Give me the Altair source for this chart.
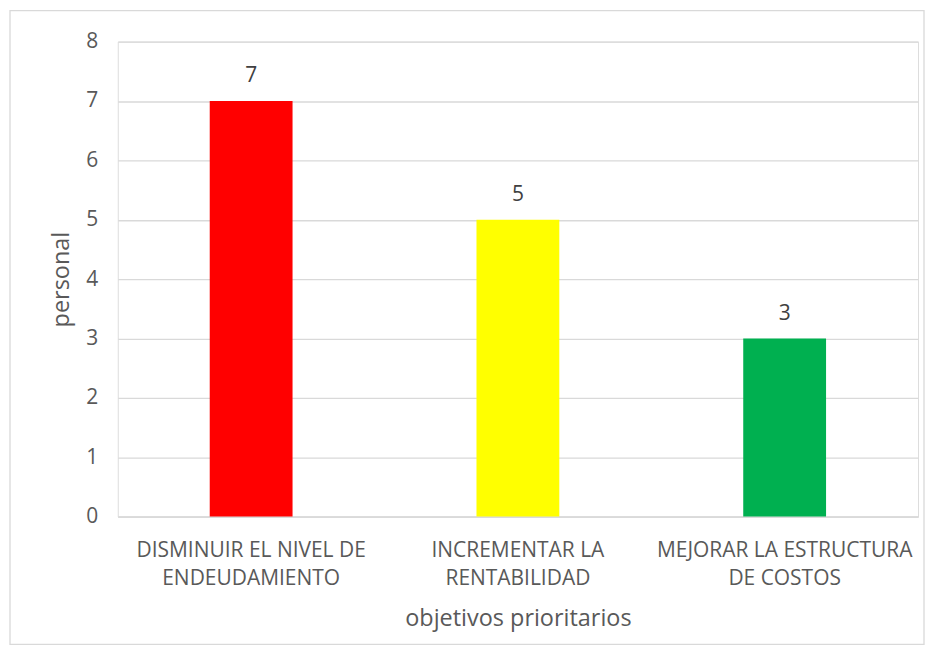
import altair as alt
import pandas as pd

categories = ["DISMINUIR EL NIVEL DE ENDEUDAMIENTO",
              "INCREMENTAR LA RENTABILIDAD",
              "MEJORAR LA ESTRUCTURA DE COSTOS"]
label_lines = [["DISMINUIR EL NIVEL DE", "ENDEUDAMIENTO"],
               ["INCREMENTAR LA", "RENTABILIDAD"],
               ["MEJORAR LA ESTRUCTURA", "DE COSTOS"]]
values = [7, 5, 3]
colors = ["#FF0000", "#FFFF00", "#00B050"]
y_ticks = [0, 1, 2, 3, 4, 5, 6, 7, 8]

df = pd.DataFrame({"cat": categories, "val": values, "color": colors})

expr = ""
for c, ls in zip(categories, label_lines):
    expr += f"datum.value == '{c}' ? ['{ls[0]}', '{ls[1]}'] : "
expr += "datum.label"

FONT = "Open Sans"
LFS = 21
TFS = 23.5
W, H = 802, 476

base = alt.Chart(df)

x_enc = alt.X("cat:N", sort=categories,
              scale=alt.Scale(paddingInner=0, paddingOuter=0),
              axis=alt.Axis(title="objetivos prioritarios", labelExpr=expr,
                            labelAngle=0, labelFont=FONT, labelFontSize=LFS,
                            labelColor="#595959", labelLineHeight=28,
                            labelPadding=23, labelLimit=0, tickSize=0,
                            domainColor="#d9d9d9", domainWidth=1.5,
                            titleFont=FONT, titleFontSize=TFS,
                            titleFontWeight="normal", titleColor="#595959",
                            titleX=W / 2, titleY=102, titleBaseline="middle"))
y_enc = alt.Y("val:Q", scale=alt.Scale(domain=[0, 8]),
              axis=alt.Axis(title="personal", values=y_ticks, format="d",
                            tickSize=0, domain=False, labelFont=FONT,
                            labelFontSize=LFS, labelColor="#595959",
                            labelPadding=20, gridColor="#d9d9d9", gridWidth=1.3,
                            titleFont=FONT, titleFontSize=TFS,
                            titleFontWeight="normal", titleColor="#595959",
                            titleX=-56, titleY=H / 2, titleBaseline="middle",
                            titleAngle=-90))

bars = base.mark_bar(size=83).encode(
    x=x_enc, y=y_enc,
    color=alt.Color("color:N", scale=None),
)

texts = base.mark_text(dy=-25, font=FONT, fontSize=LFS, color="#404040").encode(
    x=alt.X("cat:N", sort=categories), y="val:Q", text="val:Q"
)

border = alt.Chart(pd.DataFrame({"k": [0]})).mark_rect(
    fill=None, stroke="#d9d9d9", strokeWidth=1.3, clip=False
).encode(x=alt.value(-108), x2=alt.value(808), y=alt.value(-31), y2=alt.value(604))

chart = alt.layer(bars, texts, border).properties(
    width=W, height=H,
    autosize=alt.AutoSizeParams(type="none"),
    padding={"left": 110, "top": 33, "right": 10, "bottom": 131},
).configure_view(stroke=None).configure(background="white")

chart.save("out.html", embed_options={"renderer": "svg", "actions": False})
